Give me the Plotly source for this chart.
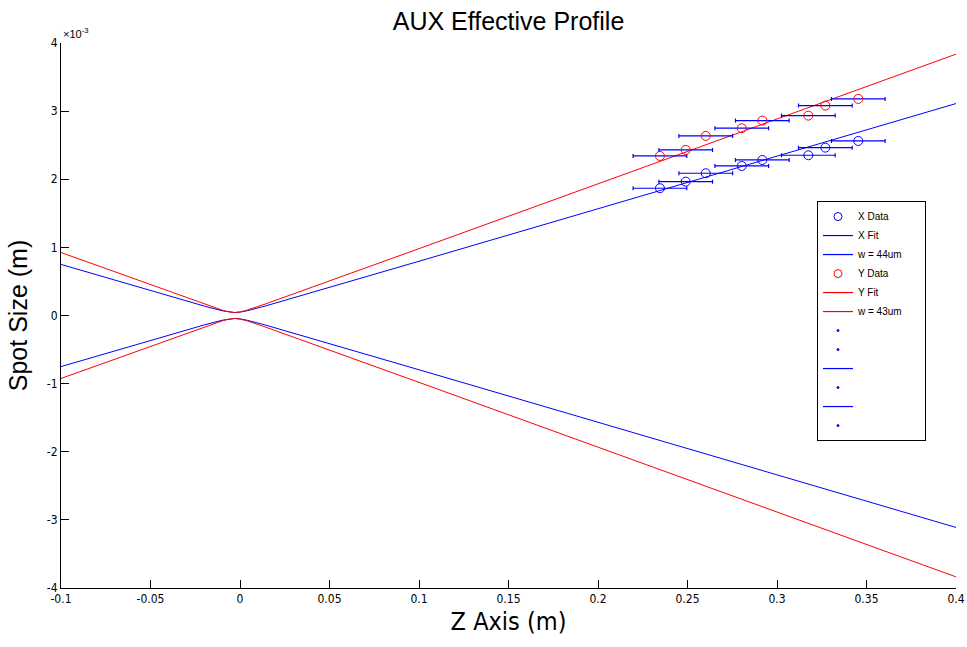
import plotly.graph_objects as go

# ---------------- data (y values in units of 1e-3 m) ----------------
z_data = [0.2346, 0.2490, 0.2602, 0.2803, 0.2918, 0.3175, 0.3270, 0.3454]
x_data = [1.868, 1.965, 2.088, 2.195, 2.283, 2.352, 2.464, 2.562]
y_data = [2.342, 2.430, 2.636, 2.749, 2.861, 2.934, 3.081, 3.179]
z_err = [0.015, 0.015, 0.015, 0.015, 0.015, 0.015, 0.015, 0.015]

z_fit = [-0.1, -0.05, -0.02, -0.01, -0.006, -0.003, 0.0, 0.004, 0.014, 0.05, 0.1, 0.2, 0.3, 0.4]
x_fit_upper = [0.750, 0.3655, 0.1384, 0.0697, 0.0497, 0.044, 0.0497, 0.0697, 0.1384, 0.4116, 0.7964, 1.567, 2.339, 3.111]
x_fit_lower = [-0.750, -0.3655, -0.1384, -0.0697, -0.0497, -0.044, -0.0497, -0.0697, -0.1384, -0.4116, -0.7964, -1.567, -2.339, -3.111]
y_fit_upper = [0.9244, 0.4495, 0.1674, 0.0793, 0.0516, 0.043, 0.0516, 0.0793, 0.1674, 0.5064, 0.9815, 1.9326, 2.8846, 3.8366]
y_fit_lower = [-0.9244, -0.4495, -0.1674, -0.0793, -0.0516, -0.043, -0.0516, -0.0793, -0.1674, -0.5064, -0.9815, -1.9326, -2.8846, -3.8366]

x_tick_vals = [-0.1, -0.05, 0, 0.05, 0.1, 0.15, 0.2, 0.25, 0.3, 0.35, 0.4]
x_tick_text = ["-0.1", "-0.05", "0", "0.05", "0.1", "0.15", "0.2", "0.25", "0.3", "0.35", "0.4"]
y_tick_vals = [-4, -3, -2, -1, 0, 1, 2, 3, 4]
y_tick_text = ["-4", "-3", "-2", "-1", "0", "1", "2", "3", "4"]

BLUE = "#0000ff"
RED = "#ff0000"
FONT = "Liberation Sans Narrow, Arial Narrow, DejaVu Sans Condensed, Liberation Sans, Arial, sans-serif"
SANS = "Liberation Sans, Arial, sans-serif"

fig = go.Figure()

fig.add_trace(go.Scatter(x=z_fit, y=x_fit_upper, mode="lines", name="X Fit",
                         line=dict(color=BLUE, width=1), showlegend=False))
fig.add_trace(go.Scatter(x=z_fit, y=x_fit_lower, mode="lines", name="w = 44um",
                         line=dict(color=BLUE, width=1), showlegend=False))
fig.add_trace(go.Scatter(x=z_fit, y=y_fit_upper, mode="lines", name="Y Fit",
                         line=dict(color=RED, width=1), showlegend=False))
fig.add_trace(go.Scatter(x=z_fit, y=y_fit_lower, mode="lines", name="w = 43um",
                         line=dict(color=RED, width=1), showlegend=False))

fig.add_trace(go.Scatter(x=z_data, y=x_data, mode="markers", name="X Data",
                         marker=dict(symbol="circle-open", size=9, color=BLUE, line=dict(width=1)),
                         error_x=dict(type="data", array=z_err, color=BLUE, thickness=1.2, width=2),
                         showlegend=False))
fig.add_trace(go.Scatter(x=z_data, y=y_data, mode="markers", name="Y Data",
                         marker=dict(symbol="circle-open", size=9, color=RED, line=dict(width=1)),
                         error_x=dict(type="data", array=z_err, color=BLUE, thickness=1.2, width=2),
                         showlegend=False))

# legend entries
NB = "\u00a0"
legend_items = [
    ("X Data", "markers", BLUE, "circle-open", 8),
    ("X Fit", "lines", BLUE, None, 0),
    ("w = 44um" + NB * 6, "lines", BLUE, None, 0),
    ("Y Data", "markers", RED, "circle-open", 8),
    ("Y Fit", "lines", RED, None, 0),
    ("w = 43um", "lines", RED, None, 0),
    (NB, "markers", BLUE, "circle", 2),
    (NB * 2, "markers", BLUE, "circle", 2),
    (NB * 3, "lines", BLUE, None, 0),
    (NB * 4, "markers", BLUE, "circle", 2),
    (NB * 5, "lines", BLUE, None, 0),
    (NB * 6, "markers", BLUE, "circle", 2),
]
for name, mode, color, sym, size in legend_items:
    if mode == "markers":
        fig.add_trace(go.Scatter(x=[None], y=[None], mode="markers", name=name,
                                 marker=dict(symbol=sym, size=size, color=color, line=dict(width=1, color=color))))
    else:
        fig.add_trace(go.Scatter(x=[None], y=[None], mode="lines", name=name,
                                 line=dict(color=color, width=1.2)))

fig.update_layout(
    width=967, height=647,
    margin=dict(l=61, r=11, t=43, b=59, autoexpand=False),
    paper_bgcolor="white", plot_bgcolor="white",
    font=dict(family=FONT, color="black", size=12),
    title=dict(text="AUX Effective Profile", x=0.5, xref="paper", y=0.981, yanchor="top",
               font=dict(family=SANS, size=25, color="black")),
    showlegend=True,
    legend=dict(x=0.8447, y=0.71, xanchor="left", yanchor="top",
                bordercolor="black", borderwidth=1, bgcolor="white",
                font=dict(family=SANS, size=10, color="black"),
                tracegroupgap=0, itemwidth=30),
    xaxis=dict(range=[-0.1, 0.4], tickvals=x_tick_vals, ticktext=x_tick_text, automargin=False,
               showgrid=False, zeroline=False, showline=True, linecolor="black", linewidth=1,
               ticks="inside", ticklen=8, tickcolor="black", mirror=False,
               tickfont=dict(size=12), ticklabeloverflow="allow",
               title=dict(text="Z Axis (m)", standoff=7,
                          font=dict(family=FONT, size=25, color="black"))),
    yaxis=dict(range=[-4, 4], tickvals=y_tick_vals, ticktext=y_tick_text, automargin=False,
               showgrid=False, zeroline=False, showline=True, linecolor="black", linewidth=1,
               ticks="inside", ticklen=8, tickcolor="black", mirror=False,
               tickfont=dict(size=12), ticklabeloverflow="allow",
               title=dict(text="Spot Size (m)", standoff=12,
                          font=dict(family=SANS, size=25, color="black"))),
)

fig.add_annotation(x=0, y=1.0, xref="paper", yref="paper", xanchor="left", yanchor="bottom",
                   text="×10<sup>-3</sup>", showarrow=False,
                   font=dict(family=SANS, size=11, color="black"),
                   yshift=1)

# remove the default page margin so the 967x647 figure fills the window exactly
fig.write_html("out.html", config={"displayModeBar": False},
               post_script="document.body.style.margin='0';document.body.style.overflow='hidden';")
